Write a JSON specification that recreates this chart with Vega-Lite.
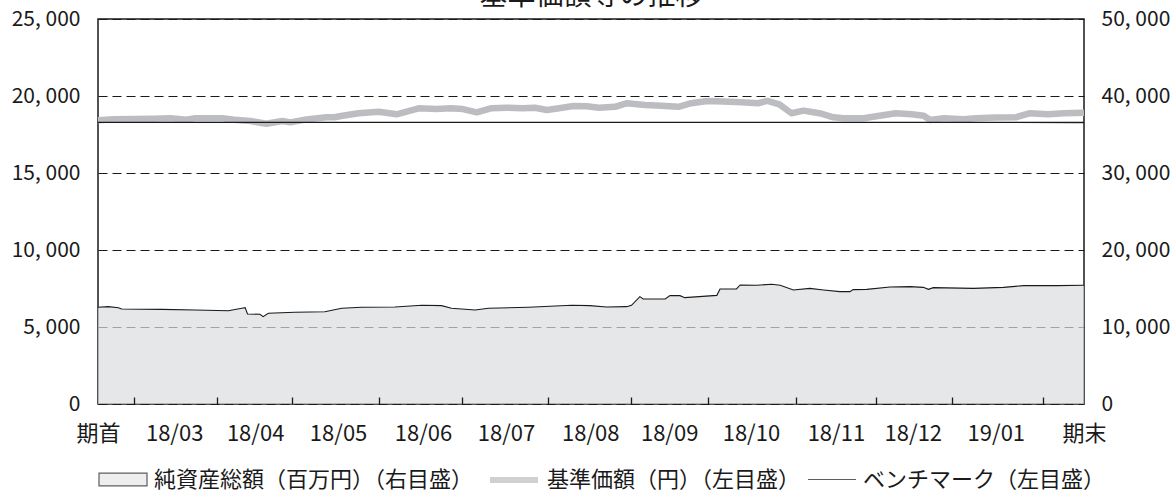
{
  "$schema": "https://vega.github.io/schema/vega-lite/v6.json",
  "width": 986,
  "height": 385,
  "autosize": {"type": "none"},
  "padding": {"left": 98, "top": 19, "right": 92, "bottom": 87},
  "background": "#ffffff",
  "config": {
    "view": {"stroke": "#1a1a1a", "strokeWidth": 1.5},
    "font": "Noto Sans CJK JP",
    "axis": {"labelFont": "Noto Sans CJK JP", "labelColor": "#1a1a1a", "domain": false},
    "legend": {"orient": "none", "legendX": 0, "legendY": 434, "direction": "horizontal", "title": null, "symbolSize": 2304, "labelFontSize": 22, "labelFont": "Noto Sans CJK JP", "labelColor": "#1a1a1a", "labelOffset": 6, "columnPadding": 4, "labelLimit": 600}
  },
  "datasets": {
    "na": [
      {"d": 0, "v": 12560}, {"d": 2.6, "v": 12640}, {"d": 5.1, "v": 12510}, {"d": 5.9, "v": 12340},
      {"d": 15.9, "v": 12290}, {"d": 24.2, "v": 12210}, {"d": 32.5, "v": 12120}, {"d": 35.9, "v": 12430},
      {"d": 36.7, "v": 12510}, {"d": 37.3, "v": 11690}, {"d": 40.4, "v": 11650}, {"d": 41.2, "v": 11340},
      {"d": 42.5, "v": 11780}, {"d": 49.1, "v": 11910}, {"d": 56.6, "v": 11990}, {"d": 60.8, "v": 12430},
      {"d": 65.8, "v": 12560}, {"d": 74.1, "v": 12600}, {"d": 80.8, "v": 12820}, {"d": 85.7, "v": 12780},
      {"d": 88.2, "v": 12430}, {"d": 94.1, "v": 12210}, {"d": 97.4, "v": 12430}, {"d": 107.4, "v": 12560},
      {"d": 118.2, "v": 12820}, {"d": 122.7, "v": 12770}, {"d": 126.9, "v": 12600}, {"d": 131.9, "v": 12640},
      {"d": 133.1, "v": 12820}, {"d": 135.2, "v": 13940}, {"d": 136.0, "v": 13640}, {"d": 141.5, "v": 13640},
      {"d": 142.7, "v": 14070}, {"d": 145.2, "v": 14070}, {"d": 146.4, "v": 13810}, {"d": 154.4, "v": 14110},
      {"d": 155.2, "v": 14940}, {"d": 159.3, "v": 14940}, {"d": 160.2, "v": 15460}, {"d": 164.3, "v": 15420},
      {"d": 168.1, "v": 15550}, {"d": 170.2, "v": 15420}, {"d": 173.5, "v": 14810}, {"d": 177.6, "v": 15020},
      {"d": 181.0, "v": 14810}, {"d": 185.1, "v": 14590}, {"d": 187.6, "v": 14590}, {"d": 188.4, "v": 14850},
      {"d": 191.8, "v": 14890}, {"d": 197.6, "v": 15200}, {"d": 202.6, "v": 15240}, {"d": 205.9, "v": 15150},
      {"d": 207.2, "v": 14890}, {"d": 208.4, "v": 15110}, {"d": 218.4, "v": 15020}, {"d": 225.9, "v": 15150},
      {"d": 230.9, "v": 15370}, {"d": 239.2, "v": 15370}, {"d": 246, "v": 15420}
    ],
    "nav": [
      {"d": 0, "v": 18420}, {"d": 4, "v": 18490}, {"d": 9, "v": 18510}, {"d": 14, "v": 18530},
      {"d": 18, "v": 18550}, {"d": 22, "v": 18460}, {"d": 24, "v": 18550}, {"d": 31, "v": 18550},
      {"d": 34, "v": 18460}, {"d": 38, "v": 18380}, {"d": 42, "v": 18200}, {"d": 46, "v": 18380},
      {"d": 48, "v": 18290}, {"d": 52, "v": 18480}, {"d": 57, "v": 18620}, {"d": 59, "v": 18620},
      {"d": 61, "v": 18720}, {"d": 65, "v": 18880}, {"d": 70, "v": 18980}, {"d": 74.5, "v": 18810},
      {"d": 77, "v": 18980}, {"d": 80, "v": 19200}, {"d": 84.5, "v": 19150}, {"d": 88, "v": 19200},
      {"d": 91, "v": 19150}, {"d": 94.5, "v": 18940}, {"d": 98, "v": 19200}, {"d": 102, "v": 19240},
      {"d": 106, "v": 19200}, {"d": 109, "v": 19240}, {"d": 112, "v": 19090}, {"d": 115, "v": 19200},
      {"d": 118.6, "v": 19350}, {"d": 122, "v": 19330}, {"d": 125, "v": 19240}, {"d": 129, "v": 19300},
      {"d": 132, "v": 19530}, {"d": 136.5, "v": 19420}, {"d": 140.6, "v": 19370}, {"d": 144.8, "v": 19300},
      {"d": 148, "v": 19530}, {"d": 152, "v": 19680}, {"d": 156, "v": 19640}, {"d": 160.6, "v": 19600},
      {"d": 164.7, "v": 19530}, {"d": 167, "v": 19680}, {"d": 170, "v": 19460}, {"d": 173, "v": 18880},
      {"d": 176, "v": 19050}, {"d": 180, "v": 18880}, {"d": 183.5, "v": 18620}, {"d": 186, "v": 18550},
      {"d": 191, "v": 18550}, {"d": 195, "v": 18720}, {"d": 199, "v": 18880}, {"d": 203, "v": 18810},
      {"d": 206, "v": 18720}, {"d": 207.6, "v": 18440}, {"d": 211, "v": 18550}, {"d": 216, "v": 18490},
      {"d": 219, "v": 18550}, {"d": 224, "v": 18600}, {"d": 229, "v": 18620}, {"d": 232.5, "v": 18880},
      {"d": 237, "v": 18810}, {"d": 241, "v": 18880}, {"d": 246, "v": 18920}
    ],
    "bm": [
      {"d": 0, "v": 18290}, {"d": 123, "v": 18290}, {"d": 246, "v": 18280}
    ],
    "lg": [
      {"s": "純資産総額（百万円）（右目盛）", "d": -50, "v": -5000},
      {"s": "基準価額（円）（左目盛）", "d": -50, "v": -5000},
      {"s": "ベンチマーク（左目盛）", "d": -50, "v": -5000}
    ]
  },
  "layer": [
    {
      "data": {"name": "na"},
      "mark": {"type": "area", "color": "#dcdddf", "line": {"color": "#1a1a1a", "strokeWidth": 1.1}},
      "encoding": {
        "x": {
          "field": "d", "type": "quantitative",
          "scale": {"domain": [0, 246], "nice": false, "zero": false},
          "axis": {"orient": "bottom", "title": null, "values": [9, 29.7, 48.4, 70, 90.8, 112.3, 133, 152.2, 174.2, 194.1, 213.1, 235.8], "labels": false, "grid": false, "domain": false, "tickSize": -7, "tickColor": "#1a1a1a", "tickWidth": 1.3, "zindex": 1}
        },
        "y": {
          "field": "v", "type": "quantitative",
          "scale": {"domain": [0, 50000], "nice": false},
          "axis": {"orient": "right", "title": null, "values": [0, 10000, 20000, 30000, 40000, 50000], "grid": false, "ticks": false, "labelPadding": 17, "labelFontSize": 21, "labelExpr": "replace(format(datum.value, ','), ',', ', ')"}
        }
      }
    },
    {
      "layer": [
        {
          "data": {"name": "nav"},
          "mark": {"type": "line", "color": "#bcbdc0", "strokeWidth": 6.5, "strokeJoin": "round", "strokeCap": "butt"},
          "encoding": {
            "x": {
              "field": "d", "type": "quantitative",
              "axis": {"orient": "bottom", "title": null, "values": [0, 19, 39.2, 59.9, 81.1, 101.8, 122.8, 142.5, 162.9, 184.1, 203.3, 224, 246], "ticks": false, "grid": false, "domain": false, "labelFlush": false, "labelOverlap": false, "labelBound": false, "labelPadding": 19, "labelFontSize": 22, "labelExpr": "['期首','18/03','18/04','18/05','18/06','18/07','18/08','18/09','18/10','18/11','18/12','19/01','期末'][indexof([0,19,39.2,59.9,81.1,101.8,122.8,142.5,162.9,184.1,203.3,224,246], datum.value)]"}
            },
            "y": {
              "field": "v", "type": "quantitative",
              "scale": {"domain": [0, 25000], "nice": false},
              "axis": {"orient": "left", "title": null, "values": [0, 5000, 10000, 15000, 20000, 25000], "grid": true, "gridDash": [9, 5], "gridColor": "#1a1a1a", "gridWidth": 1.1, "ticks": false, "labelPadding": 18, "labelFontSize": 21, "labelExpr": "replace(format(datum.value, ','), ',', ', ')"}
            }
          }
        },
        {
          "data": {"name": "lg"},
          "mark": {"type": "point", "clip": true},
          "encoding": {
            "x": {"field": "d", "type": "quantitative"},
            "y": {"field": "v", "type": "quantitative"},
            "fill": {
              "field": "s", "type": "nominal",
              "scale": {"domain": ["純資産総額（百万円）（右目盛）", "基準価額（円）（左目盛）", "ベンチマーク（左目盛）"], "range": ["#dcdddf", "transparent", "transparent"]}
            },
            "stroke": {
              "field": "s", "type": "nominal",
              "scale": {"domain": ["純資産総額（百万円）（右目盛）", "基準価額（円）（左目盛）", "ベンチマーク（左目盛）"], "range": ["#1a1a1a", "#bcbdc0", "#1a1a1a"]}
            },
            "shape": {
              "field": "s", "type": "nominal",
              "scale": {"domain": ["純資産総額（百万円）（右目盛）", "基準価額（円）（左目盛）", "ベンチマーク（左目盛）"], "range": ["M-1,-0.265H1V0.265H-1Z", "M-1,0H1", "M-1,0H1"]}
            },
            "strokeWidth": {
              "field": "s", "type": "nominal",
              "scale": {"type": "ordinal", "domain": ["純資産総額（百万円）（右目盛）", "基準価額（円）（左目盛）", "ベンチマーク（左目盛）"], "range": [1.2, 6, 1.2]}
            }
          }
        }
      ]
    },
    {
      "data": {"name": "bm"},
      "mark": {"type": "line", "color": "#1a1a1a", "strokeWidth": 1.3},
      "encoding": {
        "x": {
          "field": "d", "type": "quantitative",
          "axis": {"orient": "top", "labels": false, "ticks": false, "domain": false, "grid": false, "title": "基準価額等の推移", "titleFont": "Noto Sans CJK JP", "titleFontSize": 28, "titleFontWeight": "normal", "titleColor": "#1a1a1a", "titlePadding": 15, "titleBaseline": "alphabetic"}
        },
        "y": {"field": "v", "type": "quantitative", "scale": {"domain": [0, 25000], "nice": false}, "axis": null}
      }
    }
  ],
  "resolve": {"scale": {"y": "independent"}, "axis": {"x": "independent"}}
}
